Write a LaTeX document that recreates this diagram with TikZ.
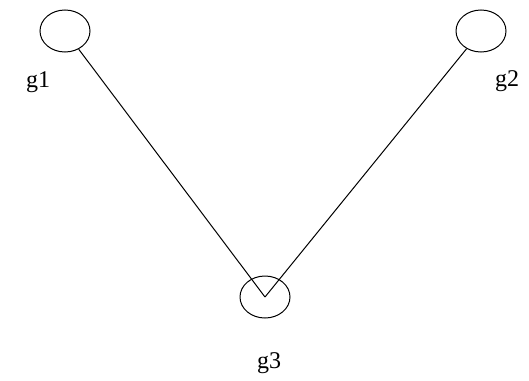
\documentclass[tikz,border=0pt]{standalone}
\usepackage{fontspec}
\setmainfont{Liberation Serif}
\usetikzlibrary{shapes.geometric}

\begin{document}
\begin{tikzpicture}[
  x=1pt, y=-1pt,
  gnode/.style={ellipse, draw=black, line width=1pt, inner sep=0pt, minimum width=50pt, minimum height=42pt},
  glabel/.style={anchor=base, font=\fontsize{24}{28}\selectfont},
  edge/.style={line width=1pt, draw=black}
]
  \useasboundingbox (0,0) rectangle (529,380);

  % Vertices
  \node[gnode] (g1) at (65,31) {};
  \node[gnode] (g2) at (481,31) {};
  \node[gnode] (g3) at (265,297) {};

  % Aristas
  \draw[edge] (g1) -- (g3.center);
  \draw[edge] (g2) -- (g3.center);

  % Etiquetas
  \node[glabel] (l1) at (38,87) {g1};
  \node[glabel] (l2) at (507,86) {g2};
  \node[glabel] (l3) at (269,368) {g3};
\end{tikzpicture}
\end{document}
